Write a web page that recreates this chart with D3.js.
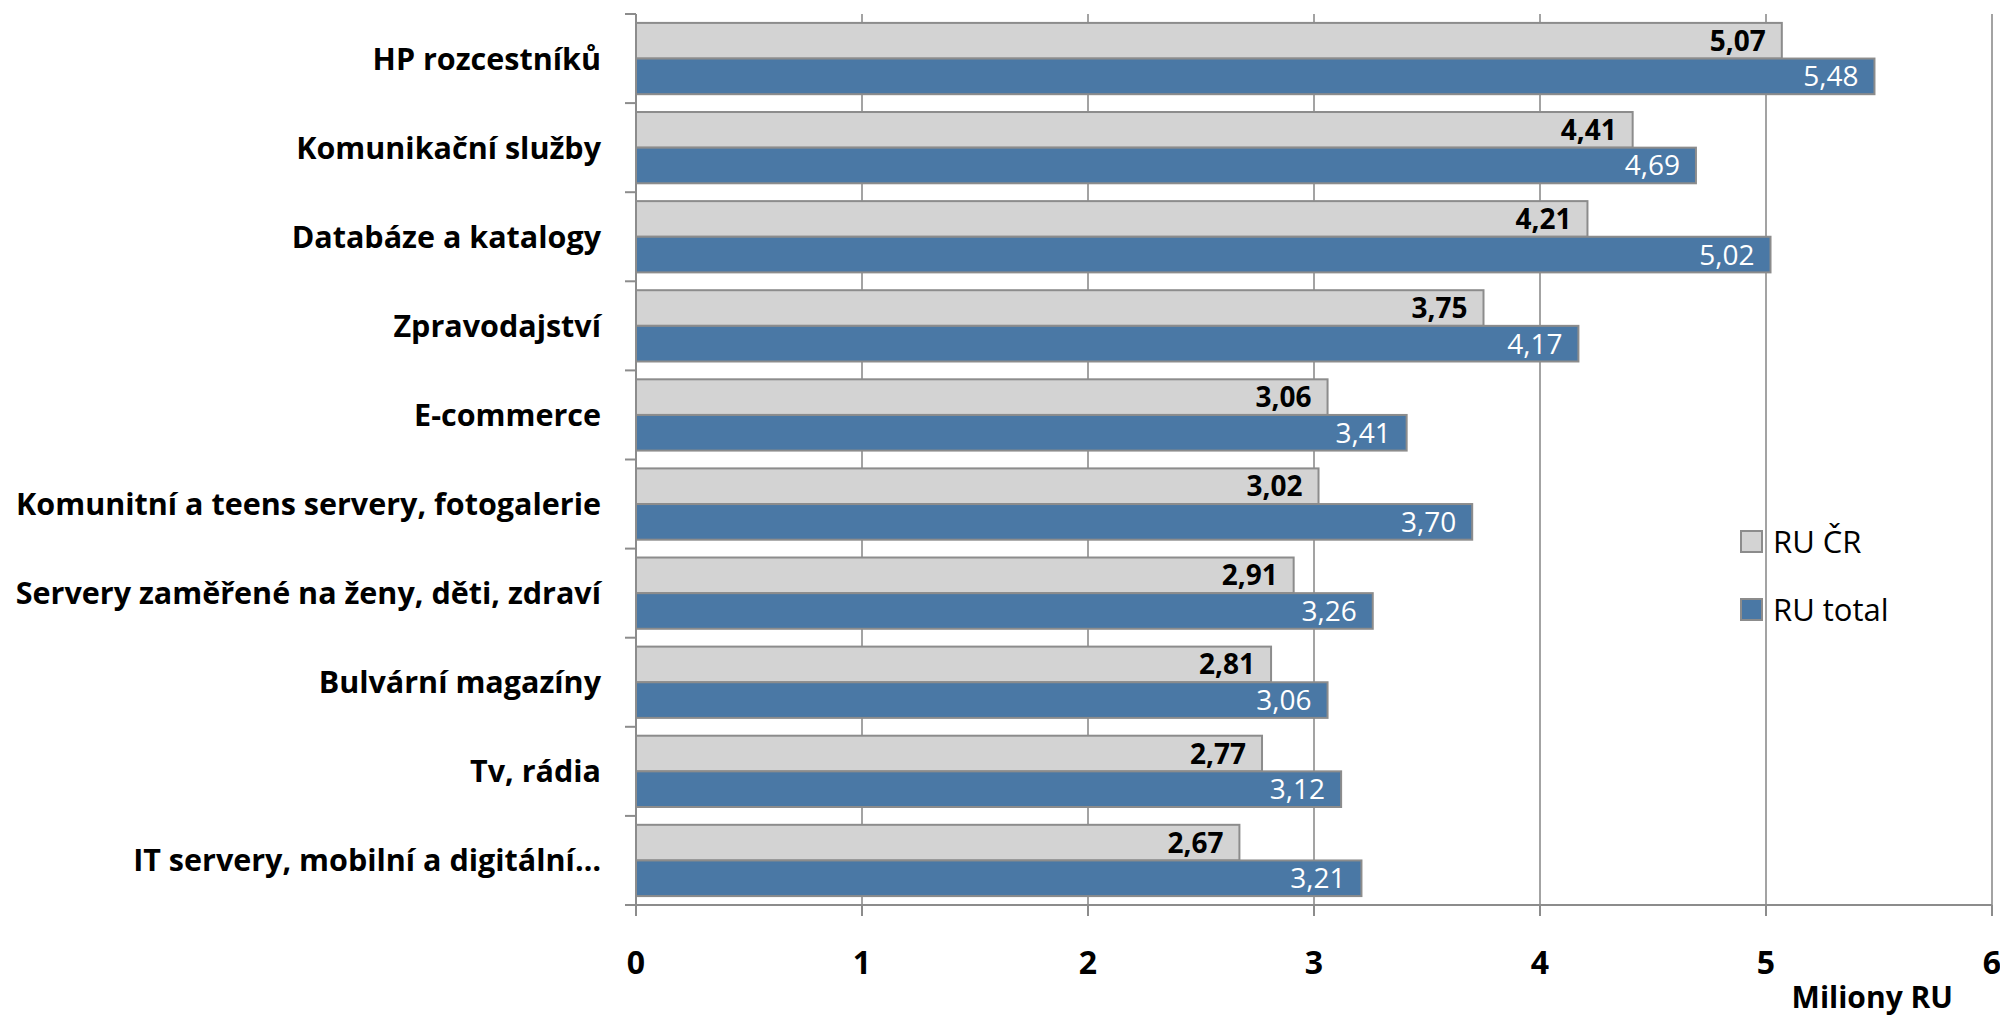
<!DOCTYPE html>
<html>
<head>
<meta charset="utf-8">
<script src="https://cdn.jsdelivr.net/npm/d3@7"></script>
<style>
  html, body { margin: 0; padding: 0; background: #fff; }
  svg { display: block; font-family: "Open Sans", sans-serif; }
</style>
</head>
<body>
<div id="chart"></div>
<script>
// data
var categories = [
  "HP rozcestníků",
  "Komunikační služby",
  "Databáze a katalogy",
  "Zpravodajství",
  "E-commerce",
  "Komunitní a teens servery, fotogalerie",
  "Servery zaměřené na ženy, děti, zdraví",
  "Bulvární magazíny",
  "Tv, rádia",
  "IT servery, mobilní a digitální…"
];
var ruCR    = [5.07, 4.41, 4.21, 3.75, 3.06, 3.02, 2.91, 2.81, 2.77, 2.67];
var ruTotal = [5.48, 4.69, 5.02, 4.17, 3.41, 3.70, 3.26, 3.06, 3.12, 3.21];
var seriesNames = ["RU ČR", "RU total"];
var xTicks = [0, 1, 2, 3, 4, 5, 6];

var width = 2000, height = 1017;
var margin = { top: 14, left: 636, right: 8, bottom: 112 };

var fmt = d3.formatLocale({ decimal: ",", thousands: " ", grouping: [3], currency: ["", ""] }).format(".2f");

var rows = categories.map(function(c, i) {
  return { name: c, values: [ruCR[i], ruTotal[i]] };
});

var svg = d3.select("#chart").append("svg")
  .attr("width", width)
  .attr("height", height);

var x = d3.scaleLinear().domain([0, 6]).range([margin.left, margin.left + 6 * 226]);
var y = d3.scaleBand().domain(categories).range([margin.top, height - margin.bottom]).paddingInner(0).paddingOuter(0);

// bar thickness: Excel gap width 50%
var barH = y.bandwidth() / 2.5;
var sub = d3.scaleBand().domain([0, 1]).range([0, barH * 2]);
var fills = ["#d3d3d3", "#4a78a5"];

// gridlines
svg.append("g").selectAll("line")
  .data(xTicks.slice(1))
  .enter().append("line")
    .attr("x1", function(d) { return x(d); })
    .attr("x2", function(d) { return x(d); })
    .attr("y1", margin.top)
    .attr("y2", height - margin.bottom)
    .attr("stroke", "#a3a3a3")
    .attr("stroke-width", 2);

// bars
var groups = svg.append("g").selectAll("g")
  .data(rows)
  .enter().append("g")
    .attr("transform", function(d) { return "translate(0," + (y(d.name) + (y.bandwidth() - barH * 2) / 2) + ")"; });

groups.selectAll("rect")
  .data(function(d) { return d.values; })
  .enter().append("rect")
    .attr("x", x(0))
    .attr("y", function(d, i) { return sub(i); })
    .attr("width", function(d) { return x(d) - x(0); })
    .attr("height", barH)
    .attr("fill", function(d, i) { return fills[i]; })
    .attr("stroke", "#8c8c8c")
    .attr("stroke-width", 2);

groups.selectAll("text")
  .data(function(d) { return d.values; })
  .enter().append("text")
    .attr("x", function(d) { return x(d) - 16; })
    .attr("y", function(d, i) { return sub(i) + barH / 2 + 10; })
    .attr("text-anchor", "end")
    .attr("font-size", 28)
    .attr("font-weight", function(d, i) { return i === 0 ? "bold" : "normal"; })
    .attr("fill", function(d, i) { return i === 0 ? "#000" : "#fff"; })
    .text(function(d) { return fmt(d); });

// y axis
var yAxis = svg.append("g")
  .attr("transform", "translate(" + x(0) + ",0)");
yAxis.append("line")
  .attr("x1", 0).attr("x2", 0)
  .attr("y1", margin.top).attr("y2", height - margin.bottom)
  .attr("stroke", "#8c8c8c").attr("stroke-width", 2);
yAxis.selectAll(".tk")
  .data(d3.range(categories.length + 1))
  .enter().append("line")
    .attr("x1", -11).attr("x2", 0)
    .attr("y1", function(i) { return margin.top + i * y.step(); })
    .attr("y2", function(i) { return margin.top + i * y.step(); })
    .attr("stroke", "#8c8c8c").attr("stroke-width", 2);
yAxis.selectAll("text")
  .data(categories)
  .enter().append("text")
    .attr("x", -35)
    .attr("y", function(d) { return y(d) + y.bandwidth() / 2 + 11; })
    .attr("text-anchor", "end")
    .attr("font-size", 30.5)
    .attr("font-weight", "bold")
    .text(function(d) { return d; });

// x axis
var xAxis = svg.append("g")
  .attr("transform", "translate(0," + (height - margin.bottom) + ")");
xAxis.append("line")
  .attr("x1", x(0)).attr("x2", x(6))
  .attr("stroke", "#8c8c8c").attr("stroke-width", 2);
xAxis.selectAll(".tk")
  .data(xTicks)
  .enter().append("line")
    .attr("x1", function(d) { return x(d); })
    .attr("x2", function(d) { return x(d); })
    .attr("y1", 0).attr("y2", 11)
    .attr("stroke", "#8c8c8c").attr("stroke-width", 2);
xAxis.selectAll("text")
  .data(xTicks)
  .enter().append("text")
    .attr("x", function(d) { return x(d); })
    .attr("y", 69)
    .attr("text-anchor", "middle")
    .attr("font-size", 32)
    .attr("font-weight", "bold")
    .text(function(d) { return d; });

svg.append("text")
  .attr("x", 1953)
  .attr("y", 1008)
  .attr("text-anchor", "end")
  .attr("font-size", 30)
  .attr("font-weight", "bold")
  .text("Miliony RU");

// legend
var legend = svg.append("g").selectAll("g")
  .data(seriesNames)
  .enter().append("g")
    .attr("transform", function(d, i) { return "translate(1741," + (531 + i * 68) + ")"; });
legend.append("rect")
  .attr("width", 21).attr("height", 21)
  .attr("fill", function(d, i) { return fills[i]; })
  .attr("stroke", "#8c8c8c").attr("stroke-width", 2);
legend.append("text")
  .attr("x", 32)
  .attr("y", 22)
  .attr("font-size", 31)
  .text(function(d) { return d; });
</script>
</body>
</html>
